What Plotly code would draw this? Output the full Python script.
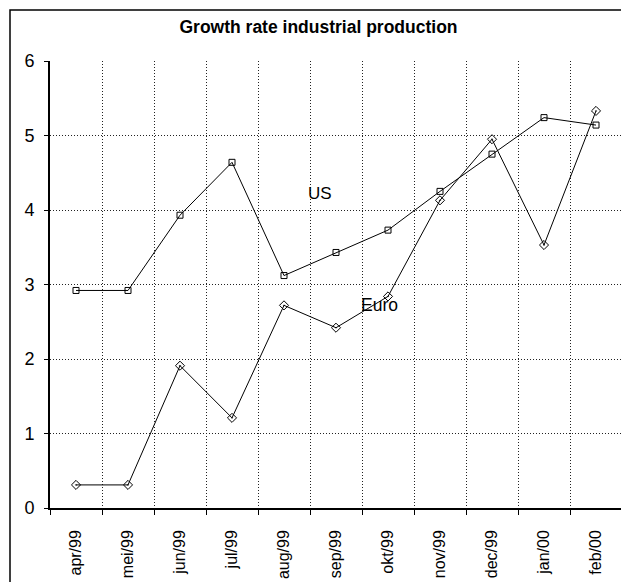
import plotly.graph_objects as go

months = ["apr/99", "mei/99", "jun/99", "jul/99", "aug/99", "sep/99",
          "okt/99", "nov/99", "dec/99", "jan/00", "feb/00"]
us = [2.92, 2.92, 3.93, 4.64, 3.12, 3.43, 3.73, 4.25, 4.75, 5.24, 5.14]
euro = [0.31, 0.31, 1.91, 1.21, 2.72, 2.42, 2.84, 4.13, 4.95, 3.53, 5.33]

FONT = "Liberation Sans, Arial, sans-serif"

fig = go.Figure()
fig.add_trace(go.Scatter(x=months, y=us, mode="lines+markers", name="US",
                         line=dict(color="black", width=1),
                         marker=dict(symbol="square-open", size=6, color="black",
                                     line=dict(width=1))))
fig.add_trace(go.Scatter(x=months, y=euro, mode="lines+markers", name="Euro",
                         line=dict(color="black", width=1),
                         marker=dict(symbol="diamond-open-dot", size=7, color="black",
                                     line=dict(width=1))))

fig.add_annotation(x=4.69, y=4.22, text="US", showarrow=False,
                   font=dict(family=FONT, size=17, color="black"))
fig.add_annotation(x=5.84, y=2.73, text="Euro", showarrow=False,
                   font=dict(family=FONT, size=17.5, color="black"))

W, H = 621, 574
L, R, T, B = 42, 7, 53, 74
pw, ph = W - L - R, H - T - B

fig.update_layout(
    width=W, height=H,
    margin=dict(l=L, r=R, t=T, b=B),
    paper_bgcolor="white", plot_bgcolor="white",
    showlegend=False,
    title=dict(text="<b>Growth rate industrial production</b>", x=0.5, xanchor="center",
               y=1 - 19 / H, yanchor="middle",
               font=dict(family=FONT, size=17.5, color="black")),
    font=dict(family=FONT, color="black"),
)
fig.update_xaxes(type="category", range=[-0.5, 10.5], tickson="boundaries",
                 showgrid=True, gridcolor="#222", griddash="1px,2px", gridwidth=1,
                 ticks="outside", ticklen=5, tickcolor="black",
                 showline=True, linecolor="black", linewidth=1.5,
                 tickangle=-90, ticklabelstandoff=14, automargin=False,
                 tickfont=dict(family=FONT, size=16, color="black"))
fig.update_yaxes(range=[0, 6], dtick=1, showgrid=True, gridcolor="#222", griddash="1px,2px",
                 gridwidth=1, ticks="outside", ticklen=4, tickcolor="black",
                 showline=True, linecolor="black", linewidth=2, zeroline=False,
                 ticklabelstandoff=6, automargin=False,
                 tickfont=dict(family=FONT, size=18, color="black"))

# right dotted plot-area edge
fig.add_shape(type="line", xref="paper", yref="paper", x0=1, x1=1, y0=0, y1=1,
              line=dict(color="#111", width=1.5, dash="1px,2px"))
# outer chart frame
fig.add_shape(type="rect", xref="paper", yref="paper",
              x0=-40 / pw, x1=1 + 20 / pw, y0=-100 / ph, y1=1 + 51 / ph,
              line=dict(color="black", width=1.5))

fig.write_html("out.html")
